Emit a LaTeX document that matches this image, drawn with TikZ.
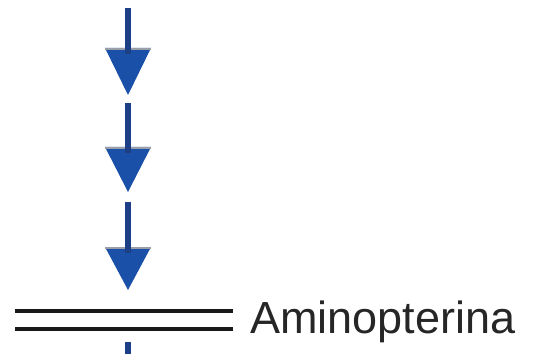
\documentclass[tikz,border=0pt]{standalone}
\usepackage{fontspec}
\setmainfont{Liberation Sans}
\definecolor{arrowblue}{HTML}{1A50A8}
\definecolor{shaftblue}{HTML}{1C3F86}
\definecolor{edgegray}{HTML}{9A9EA8}
\begin{document}
\begin{tikzpicture}[x=1pt,y=1pt,
  shaft/.style={draw=shaftblue,line width=6pt},
  head/.style={fill=arrowblue},
  headedge/.style={draw=edgegray,line width=2pt},
  bar/.style={draw=black!90,line width=4.5pt}]
\useasboundingbox (0,0) rectangle (538,354);
% arrows: shaft top y, head top y, tip y (image coords, flipped)
\foreach \i/\st/\ht/\tp in {1/8/48/95, 2/103/147/192, 3/202/247/290}{
  \coordinate (s\i) at (128,354-\st);
  \coordinate (h\i) at (128,354-\ht);
  \coordinate (t\i) at (128,354-\tp);
  \draw[shaft] (s\i) -- (h\i);
  \fill[head] ([xshift=-23pt]h\i) -- ([xshift=23pt]h\i) -- (t\i) -- cycle;
  \draw[headedge] ([xshift=-23pt,yshift=-1pt]h\i) -- ([xshift=23pt,yshift=-1pt]h\i);
  \draw[shaft] (h\i) -- ([yshift=-6pt]h\i);
}
% double bar
\coordinate (b1l) at (15,354-311);
\coordinate (b1r) at (233,354-311);
\coordinate (b2l) at (15,354-329);
\coordinate (b2r) at (233,354-329);
\draw[bar] (b1l) -- (b1r);
\draw[bar] (b2l) -- (b2r);
\node[anchor=base west,inner sep=0pt,font=\fontsize{45}{50}\selectfont,text=black!85] (lab) at (250,354-333) {Aminopterina};
% bottom stub
\coordinate (stubtop) at (128,354-342);
\coordinate (stubbot) at (128,0);
\draw[shaft] (stubtop) -- (stubbot);
\end{tikzpicture}
\end{document}
